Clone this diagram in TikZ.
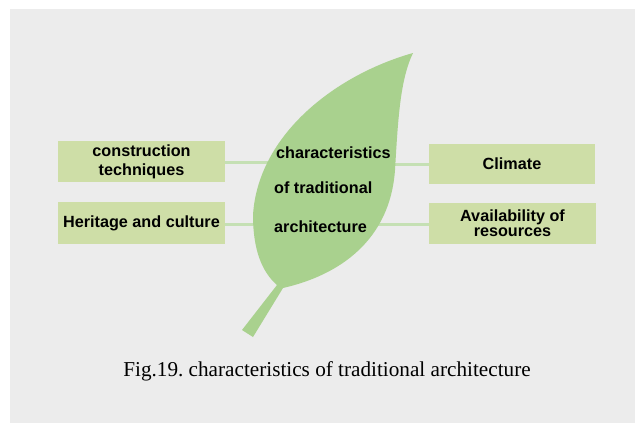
\documentclass[tikz,border=0pt]{standalone}
\usepackage{fontspec}
\setmainfont{Liberation Serif}
\newfontfamily\arialfont{Liberation Sans}
\usepackage{tikz}
\usetikzlibrary{calc,positioning}
\frenchspacing

\definecolor{bggray}{RGB}{236,236,236}
\definecolor{boxgreen}{RGB}{206,222,167}
\definecolor{leafgreen}{RGB}{169,209,142}
\definecolor{linkgreen}{RGB}{197,224,180}

\begin{document}
\begin{tikzpicture}[x=1bp,y=-1bp,
	box/.style={fill=boxgreen, inner sep=0pt, align=center,
		font=\arialfont\bfseries\fontsize{16.2bp}{19bp}\selectfont},
	leaftext/.style={anchor=base west, inner sep=0pt,
		font=\arialfont\bfseries\fontsize{16.2bp}{19bp}\selectfont},
	link/.style={draw=linkgreen, line width=3bp}]
	\useasboundingbox (0,0) rectangle (635,423);
	\fill[bggray] (10,9) rectangle (635,423);

	%boxes
	\node[box, minimum width=167bp, minimum height=41bp] (cons) at (141.5,161.5) {construction\\techniques};
	\node[box, minimum width=167bp, minimum height=42bp] (herit) at (141.5,223) {Heritage and culture};
	\node[box, minimum width=166bp, minimum height=40bp] (clim) at (512,164) {Climate};
	\node[box, minimum width=167bp, minimum height=41bp,
		font=\arialfont\bfseries\fontsize{16.2bp}{15bp}\selectfont] (avail) at (512.5,223.5) {Availability of\\resources};

	%lines (they end under the leaf)
	\coordinate (lc1) at (285,162);
	\coordinate (lc2) at (275,224);
	\coordinate (rc1) at (380,164);
	\coordinate (rc2) at (370,224);
	\draw[link] (cons.east |- lc1) -- (lc1);
	\draw[link] (herit.east |- lc2) -- (lc2);
	\draw[link] (clim.west |- rc1) -- (rc1);
	\draw[link] (avail.west |- rc2) -- (rc2);

	%leaf
	\fill[leafgreen] (413,53) .. controls (335,75) and (258,135) .. (253,215)
		.. controls (253,250) and (262,272) .. (277,285)
		-- (242,330) -- (253,337) -- (283,288)
		.. controls (340,275) and (390,240) .. (395,170)
		.. controls (398,120) and (400,80) .. (413,53) -- cycle;

	%leaf labels
	\node[leaftext] (lt1) at (276,158) {characteristics};
	\node[leaftext] (lt2) at (274,193) {of traditional};
	\node[leaftext] (lt3) at (274,232) {architecture};

	%caption
	\node[anchor=base, inner sep=0pt, font=\fontsize{21.2bp}{24bp}\selectfont] (cap) at (327,376)
		{Fig.19. characteristics of traditional architecture};
\end{tikzpicture}
\end{document}
